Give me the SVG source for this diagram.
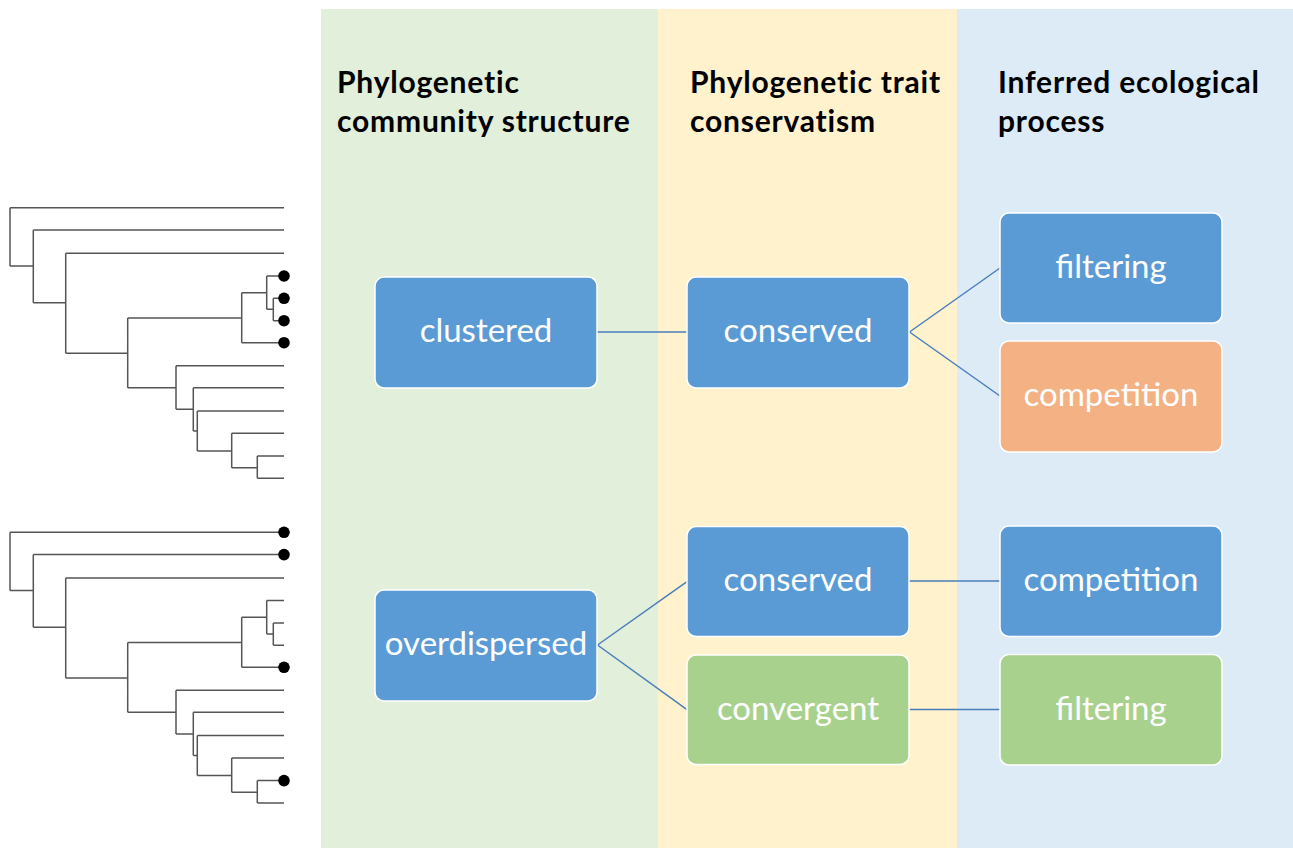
<svg xmlns="http://www.w3.org/2000/svg" xmlns:xlink="http://www.w3.org/1999/xlink" width="1293" height="848" viewBox="0 0 1293 848">
<style>
.hdr{font-family:Lato,"Liberation Sans",sans-serif;font-weight:bold;font-size:30px;letter-spacing:0.8px;fill:#000}
.box{stroke:#fff;stroke-width:1.5}
.blue{fill:#5B9BD5}
.orange{fill:#F4B183}
.green{fill:#A9D18E}
.lbl{font-family:Lato,"Liberation Sans",sans-serif;font-size:33px;fill:#fff;text-anchor:middle}
.conn{stroke:#4A7EBB;stroke-width:1.5;fill:none}
.tree{stroke:#555;stroke-width:1.5;fill:none}
.dot{fill:#000}
</style>
<defs>
<path id="tree" class="tree" d="M10,207.7V266M10,207.7H284M10,266H33.3
M33.3,230V302.7M33.3,230H284M33.3,302.7H65.7
M65.7,253.3V353.3M65.7,253.3H284M65.7,353.3H127.7
M127.7,318V387.7M127.7,318H241.7M127.7,387.7H176
M241.7,292.7V342.7M241.7,292.7H266.7M241.7,342.7H284
M266.7,276V309.3M266.7,276H284M266.7,309.3H273.3
M273.3,298.3V320.7M273.3,298.3H284M273.3,320.7H284
M176,365.7V409.3M176,365.7H284M176,409.3H193.3
M193.3,387.7V431M193.3,387.7H284M193.3,431H197.3
M197.3,411V451M197.3,411H284M197.3,451H231.7
M231.7,433.3V467.7M231.7,433.3H284M231.7,467.7H257.3
M257.3,456V478.3M257.3,456H284M257.3,478.3H284"/>
</defs>
<rect width="1293" height="848" fill="#fff"/>
<g id="panels">
<rect x="321" y="9" width="337" height="839" fill="#E2EFDA"/>
<rect x="658" y="9" width="299" height="839" fill="#FFF2CC"/>
<rect x="957" y="9" width="336" height="839" fill="#DDEBF7"/>
</g>
<g id="headers">
<text class="hdr" x="337" y="92.5">Phylogenetic</text>
<text class="hdr" x="337" y="132">community structure</text>
<text class="hdr" x="690" y="92.5">Phylogenetic trait</text>
<text class="hdr" x="690" y="132">conservatism</text>
<text class="hdr" x="998" y="92.5">Inferred ecological</text>
<text class="hdr" x="998" y="132">process</text>
</g>
<g id="tree1">
<use xlink:href="#tree"/>
<circle class="dot" cx="284" cy="276" r="5.8"/>
<circle class="dot" cx="284" cy="298.3" r="5.8"/>
<circle class="dot" cx="284" cy="320.7" r="5.8"/>
<circle class="dot" cx="284" cy="342.7" r="5.8"/>
</g>
<g id="tree2" transform="translate(0,324.6)">
<use xlink:href="#tree"/>
<circle class="dot" cx="284" cy="207.7" r="5.8"/>
<circle class="dot" cx="284" cy="230" r="5.8"/>
<circle class="dot" cx="284" cy="342.7" r="5.8"/>
<circle class="dot" cx="284" cy="456" r="5.8"/>
</g>
<g id="connectors">
<line class="conn" x1="597" y1="332" x2="687" y2="332"/>
<line class="conn" x1="909.5" y1="332" x2="1000" y2="268"/>
<line class="conn" x1="909.5" y1="332" x2="1000" y2="396"/>
<line class="conn" x1="597.5" y1="645" x2="687" y2="581.7"/>
<line class="conn" x1="597.5" y1="645" x2="687" y2="709.7"/>
<line class="conn" x1="909.5" y1="581" x2="1000" y2="581"/>
<line class="conn" x1="909.5" y1="709.5" x2="1000" y2="709.5"/>
</g>
<g id="clustered">
<rect class="box blue" x="375" y="277" width="222" height="111" rx="9"/>
<text class="lbl" x="486" y="342">clustered</text>
</g>
<g id="conserved1">
<rect class="box blue" x="687" y="277" width="222" height="111" rx="9"/>
<text class="lbl" x="798" y="342">conserved</text>
</g>
<g id="filtering1">
<rect class="box blue" x="1000" y="213" width="222" height="110" rx="9"/>
<text class="lbl" x="1111" y="278">filtering</text>
</g>
<g id="competition1">
<rect class="box orange" x="1000" y="341" width="222" height="111" rx="9"/>
<text class="lbl" x="1111" y="406">competition</text>
</g>
<g id="overdispersed">
<rect class="box blue" x="375" y="590" width="222" height="111" rx="9"/>
<text class="lbl" x="486" y="655">overdispersed</text>
</g>
<g id="conserved2">
<rect class="box blue" x="687" y="526.5" width="222" height="110" rx="9"/>
<text class="lbl" x="798" y="591">conserved</text>
</g>
<g id="convergent">
<rect class="box green" x="687" y="655" width="222" height="109.5" rx="9"/>
<text class="lbl" x="798" y="720">convergent</text>
</g>
<g id="competition2">
<rect class="box blue" x="1000" y="526" width="222" height="110.5" rx="9"/>
<text class="lbl" x="1111" y="591">competition</text>
</g>
<g id="filtering2">
<rect class="box green" x="1000" y="654.5" width="222" height="110.5" rx="9"/>
<text class="lbl" x="1111" y="720">filtering</text>
</g>
</svg>
